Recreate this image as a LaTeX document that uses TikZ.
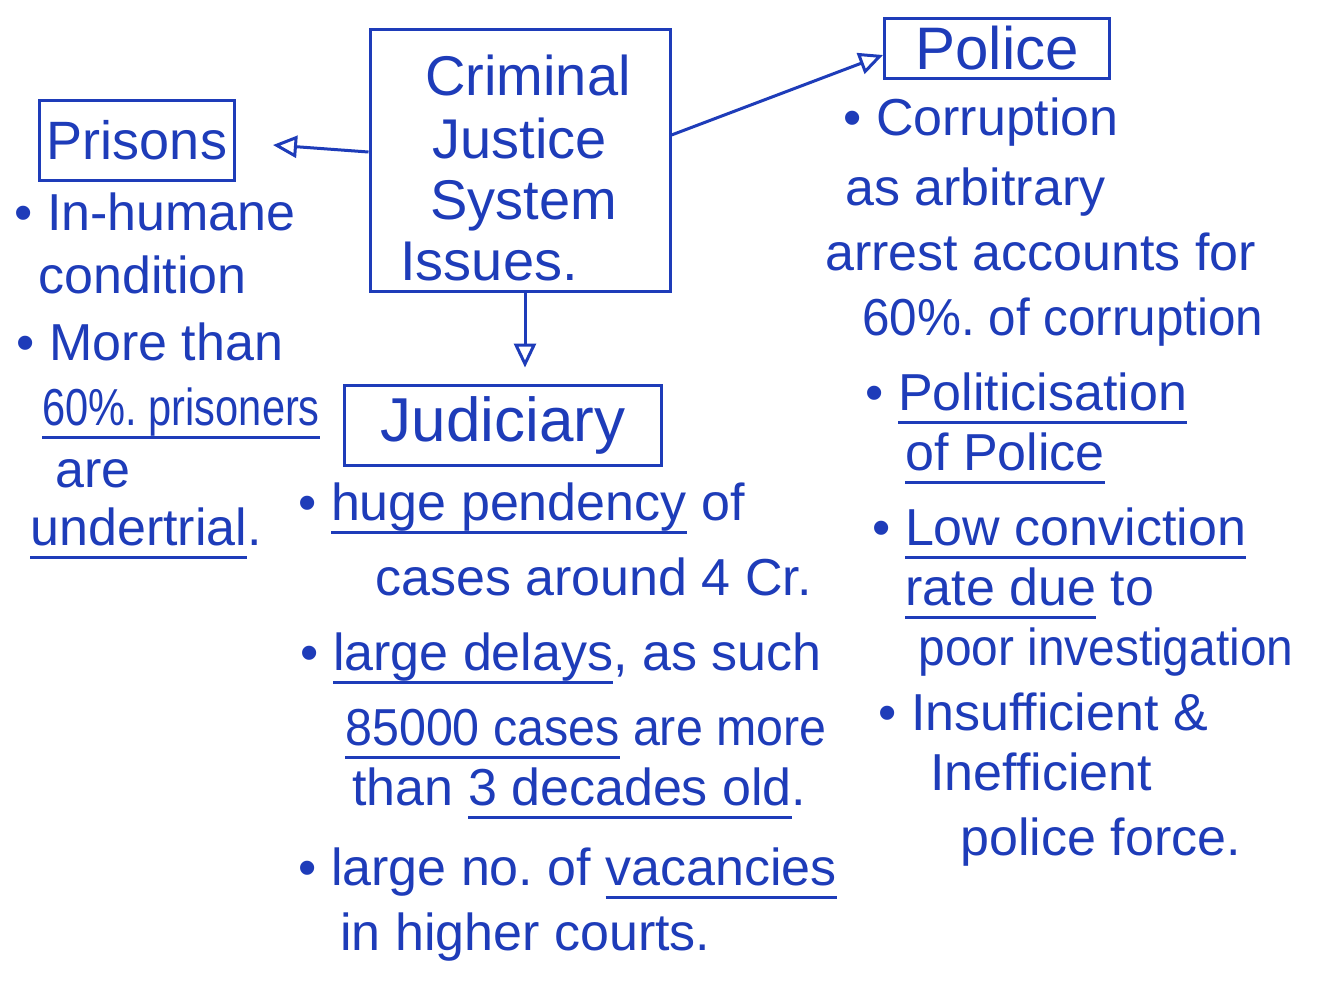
\documentclass[tikz,border=0pt]{standalone}
\usepackage{fontspec}
\setmainfont{Liberation Sans}
\usetikzlibrary{arrows.meta,calc}
\definecolor{ink}{RGB}{30,60,185}
\newsavebox\ulbox
\newcommand\ul[1]{\sbox\ulbox{#1}\rlap{\rule[-7pt]{\wd\ulbox}{1.3pt}}\usebox\ulbox}
\frenchspacing
\begin{document}
\begin{tikzpicture}[x=0.5pt,y=-0.5pt,
  box/.style={draw=ink, line width=1.5pt, inner sep=0pt},
  title/.style={font=\fontsize{30}{34}\selectfont, text=ink},
  ctitle/.style={anchor=base west, inner sep=0pt, font=\fontsize{28}{32}\selectfont, text=ink},
  txt/.style={anchor=base west, inner sep=0pt, font=\fontsize{26}{30}\selectfont, text=ink},
  arr/.style={draw=ink, line width=1.5pt, -{Triangle[open, length=12pt, width=11pt, line width=1.5pt]}}]
\useasboundingbox[fill=white] (0,0) rectangle (1317,993);

% boxes
\node[box, minimum width=150pt, minimum height=131pt] (cjs) at (520,160) {};
\node[box, title, font=\fontsize{27}{30}\selectfont, minimum width=97.5pt, minimum height=40pt] (prisons) at (137,140) {Prisons};
\node[box, title, minimum width=112.5pt, minimum height=30pt] (police) at (997,48) {Police};
\node[box, title, font=\fontsize{31}{34}\selectfont, minimum width=158.5pt, minimum height=40pt] (judiciary) at (503,425) {Judiciary};

% centre title
\node[ctitle] (c1) at (425,95) {Criminal};
\node[ctitle] (c2) at (432,158) {Justice};
\node[ctitle] (c3) at (430,219) {System};
\node[ctitle] (c4) at (400,280) {Issues.};

% connectors
\draw[arr] ($(cjs.west)+(0,-8)$) -- ($(prisons.east)+(37,5)$);
\draw[arr] ($(cjs.east)+(0,-25)$) -- ($(police.west)+(0,7)$);
\draw[arr] ($(cjs.south)+(5,0)$) -- ($(cjs.south)+(5,75)$);

% prisons column
\node[txt] (p1) at (14,230) {• In-humane};
\node[txt] (p2) at (38,293) {condition};
\node[txt] (p3) at (16,360) {• More than};
\node[txt] (p4) at (42,425) {\scalebox{0.8}[1]{\ul{60\%. prisoners}}};
\node[txt] (p5) at (55,487) {are};
\node[txt] (p6) at (30,545) {\ul{undertrial}.};

% judiciary column
\node[txt] (j1) at (298,520) {• \ul{huge pendency} of};
\node[txt] (j2) at (375,595) {cases around 4 Cr.};
\node[txt] (j3) at (300,670) {• \ul{large delays}, as such};
\node[txt] (j4) at (345,745) {\scalebox{0.93}[1]{\ul{85000 cases} are more}};
\node[txt] (j5) at (352,805) {than \ul{3 decades old}.};
\node[txt] (j6) at (298,885) {• large no. of \ul{vacancies}};
\node[txt] (j7) at (340,950) {in higher courts.};

% police column
\node[txt] (q1) at (843,135) {• Corruption};
\node[txt] (q2) at (845,205) {as arbitrary};
\node[txt] (q3) at (825,270) {arrest accounts for};
\node[txt] (q4) at (862,335) {\scalebox{0.95}[1]{60\%. of corruption}};
\node[txt] (q5) at (865,410) {• \ul{Politicisation}};
\node[txt] (q6) at (905,470) {\ul{of Police}};
\node[txt] (q7) at (872,545) {• \ul{Low conviction}};
\node[txt] (q8) at (905,605) {\ul{rate due} to};
\node[txt] (q9) at (918,665) {\scalebox{0.92}[1]{poor investigation}};
\node[txt] (q10) at (878,730) {• Insufficient \&};
\node[txt] (q11) at (930,790) {Inefficient};
\node[txt] (q12) at (960,855) {police force.};
\end{tikzpicture}
\end{document}
